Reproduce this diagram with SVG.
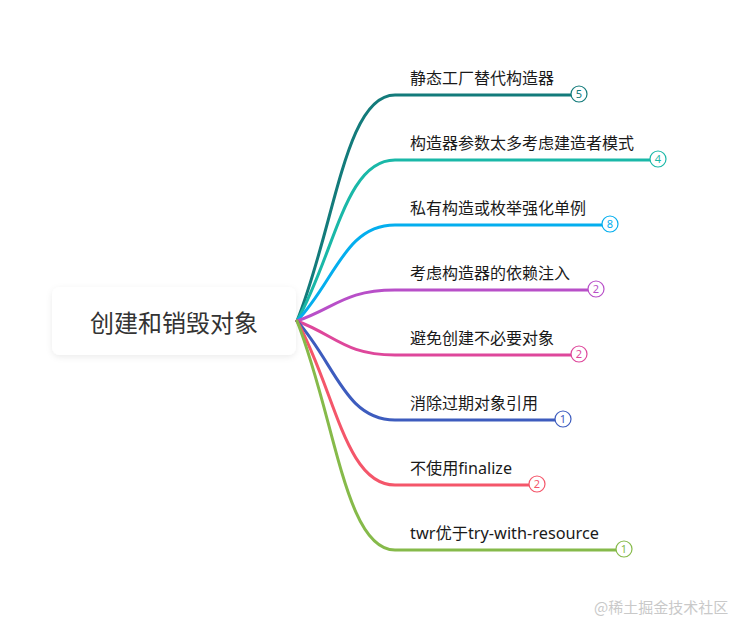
<svg xmlns="http://www.w3.org/2000/svg" width="732" height="623" viewBox="0 0 732 623">
<defs>
<filter id="sh" x="-20%" y="-40%" width="140%" height="180%">
<feDropShadow dx="0" dy="2" stdDeviation="3" flood-color="#000" flood-opacity="0.08"/>
</filter>
<style>
.lnk{fill:none;stroke-width:3;stroke-linecap:round}
.lbl{font-family:"Noto Sans","Noto Sans CJK SC",sans-serif;font-size:16px;fill:#1a1a1a}
.cnt{fill:#fff;stroke-width:1.2}
.num{font-family:"Noto Sans","Liberation Sans",sans-serif;font-size:11px;text-anchor:middle}
</style>
</defs>
<rect width="732" height="623" fill="#fff"/>
<g id="root">
<rect x="52" y="287" width="244" height="68" rx="8" fill="#fff" filter="url(#sh)"/>
<text x="174" y="332" text-anchor="middle" font-family="'Noto Sans CJK SC',sans-serif" font-size="24" fill="#333">创建和销毁对象</text>
</g>
<g id="connectors">
<path class="lnk" stroke="#137b7b" d="M297,321 C335,226 345,95 395,95 L571,95"/>
<path class="lnk" stroke="#1ab8a8" d="M297,321 C335,253 345,160 395,160 L650,160"/>
<path class="lnk" stroke="#04aeee" d="M297,321 C335,281 345,225 395,225 L602,225"/>
<path class="lnk" stroke="#b84fc8" d="M297,321 C335,308 345,290 395,290 L588,290"/>
<path class="lnk" stroke="#de479b" d="M297,321 C335,335 345,355 395,355 L571,355"/>
<path class="lnk" stroke="#3d5cbe" d="M297,321 C335,363 345,420 395,420 L555,420"/>
<path class="lnk" stroke="#f4566a" d="M297,321 C335,390 345,485 395,485 L529,485"/>
<path class="lnk" stroke="#86ba4a" d="M297,321 C335,417 345,550 395,550 L616,550"/>
</g>
<g id="n1">
<text class="lbl" x="410" y="84">静态工厂替代构造器</text>
<circle class="cnt" cx="579" cy="94" r="8" stroke="#137b7b"/>
<text class="num" x="579" y="98" fill="#137b7b">5</text>
</g>
<g id="n2">
<text class="lbl" x="410" y="149">构造器参数太多考虑建造者模式</text>
<circle class="cnt" cx="658" cy="159" r="8" stroke="#1ab8a8"/>
<text class="num" x="658" y="163" fill="#1ab8a8">4</text>
</g>
<g id="n3">
<text class="lbl" x="410" y="214">私有构造或枚举强化单例</text>
<circle class="cnt" cx="610" cy="224" r="8" stroke="#04aeee"/>
<text class="num" x="610" y="228" fill="#04aeee">8</text>
</g>
<g id="n4">
<text class="lbl" x="410" y="279">考虑构造器的依赖注入</text>
<circle class="cnt" cx="596" cy="289" r="8" stroke="#b84fc8"/>
<text class="num" x="596" y="293" fill="#b84fc8">2</text>
</g>
<g id="n5">
<text class="lbl" x="410" y="344">避免创建不必要对象</text>
<circle class="cnt" cx="579" cy="354" r="8" stroke="#de479b"/>
<text class="num" x="579" y="358" fill="#de479b">2</text>
</g>
<g id="n6">
<text class="lbl" x="410" y="409">消除过期对象引用</text>
<circle class="cnt" cx="563" cy="419" r="8" stroke="#3d5cbe"/>
<text class="num" x="563" y="423" fill="#3d5cbe">1</text>
</g>
<g id="n7">
<text class="lbl" x="410" y="474" textLength="102" lengthAdjust="spacingAndGlyphs">不使用finalize</text>
<circle class="cnt" cx="537" cy="484" r="8" stroke="#f4566a"/>
<text class="num" x="537" y="488" fill="#f4566a">2</text>
</g>
<g id="n8">
<text class="lbl" x="410" y="539" textLength="189" lengthAdjust="spacingAndGlyphs">twr优于try-with-resource</text>
<circle class="cnt" cx="624" cy="549" r="8" stroke="#86ba4a"/>
<text class="num" x="624" y="553" fill="#86ba4a">1</text>
</g>
<text x="594" y="613" font-family="'Noto Sans CJK SC',sans-serif" font-size="15" fill="#c9c9c9">@稀土掘金技术社区</text>
</svg>
